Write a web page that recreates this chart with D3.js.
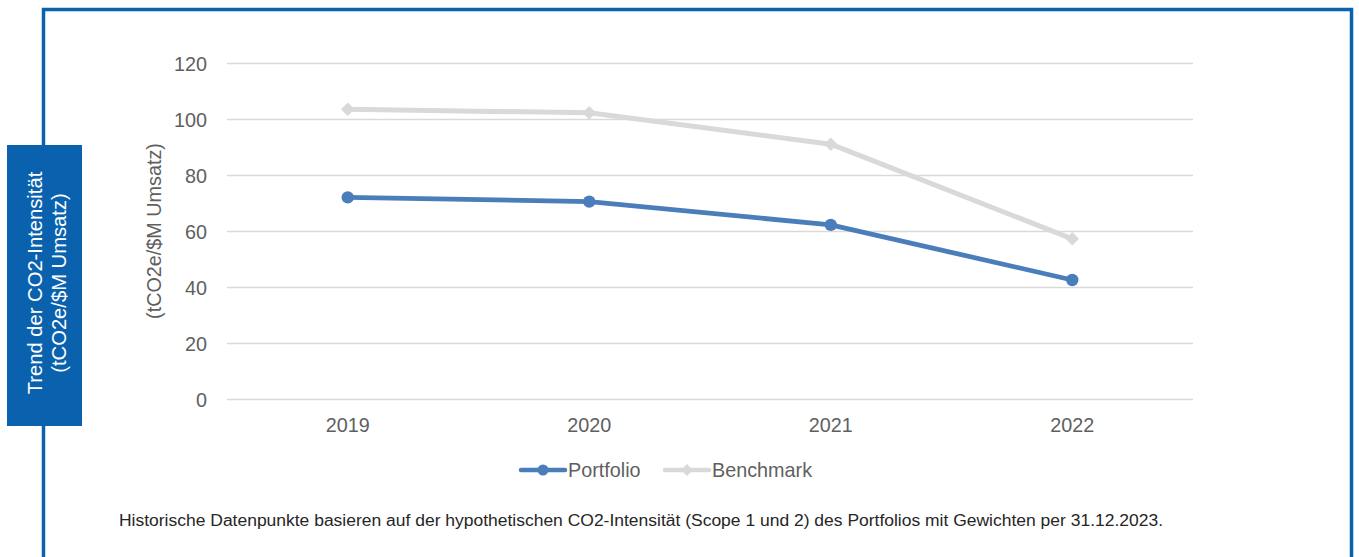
<!DOCTYPE html>
<html>
<head>
<meta charset="utf-8">
<script src="https://cdn.jsdelivr.net/npm/d3@7"></script>
<style>
  html, body { margin: 0; padding: 0; background: #fff; }
  svg { display: block; font-family: "Liberation Sans", Arial, sans-serif; }
</style>
</head>
<body>
<svg id="chart" width="1359" height="557"></svg>
<script>
// Jahre und CO2-Intensität (tCO2e/$M Umsatz)
const years = ["2019", "2020", "2021", "2022"];
const portfolio = [72, 70.5, 62.2, 42.5];
const benchmark = [103.5, 102.2, 91, 57.2];
const yTicks = [0, 20, 40, 60, 80, 100, 120];
const seriesNames = ["Portfolio", "Benchmark"];

const svg = d3.select("#chart");
const frameBlue = "#0a62ae";
const portfolioColor = "#4a7ebb";
const benchmarkColor = "#d9d9d9";
const textGray = "#5f5f5f";
const fontSize = 19.8;

// Rahmen
svg.append("path")
  .attr("d", "M43.5,557 L43.5,9.5 L1351.5,9.5 L1351.5,557")
  .attr("fill", "none").attr("stroke", frameBlue).attr("stroke-width", 3.5);

// Seitliche Beschriftungsbox
svg.append("rect").attr("x", 7).attr("y", 145).attr("width", 75).attr("height", 281)
  .attr("fill", frameBlue);
const boxText = svg.append("text")
  .attr("transform", "translate(48,283) rotate(-90)")
  .attr("text-anchor", "middle").attr("fill", "#fff").attr("font-size", 20.2);
boxText.append("tspan").attr("x", 0).attr("y", -6).text("Trend der CO2-Intensität");
boxText.append("tspan").attr("x", 0).attr("y", 18).text("(tCO2e/$M Umsatz)");

// Skalen
const x = d3.scaleBand().domain(years).range([227, 1193]);
const y = d3.scaleLinear().domain([0, 120]).range([399, 63]);
const cx = d => x(d) + x.bandwidth() / 2;

// Gitterlinien
svg.append("g").selectAll("line").data(yTicks).join("line")
  .attr("x1", 227).attr("x2", 1193)
  .attr("y1", d => Math.round(y(d)) + 0.5).attr("y2", d => Math.round(y(d)) + 0.5)
  .attr("stroke", "#d9d9d9").attr("stroke-width", 1.3);

// Y-Achse
const yAxis = svg.append("g").attr("transform", "translate(227,0)")
  .call(d3.axisLeft(y).tickValues(yTicks).tickSize(0).tickPadding(20));
yAxis.select(".domain").remove();
yAxis.selectAll("text").attr("font-size", fontSize).attr("fill", textGray)
  .attr("dy", "0.37em")
  .attr("font-family", "Liberation Sans, Arial, sans-serif");

// X-Achse
const xAxis = svg.append("g").attr("transform", "translate(0,399)")
  .call(d3.axisBottom(x).tickSize(0).tickPadding(19));
xAxis.select(".domain").remove();
xAxis.selectAll("text").attr("font-size", fontSize).attr("fill", textGray)
  .attr("font-family", "Liberation Sans, Arial, sans-serif");

// Achsentitel
svg.append("text")
  .attr("transform", "translate(161,231) rotate(-90)")
  .attr("text-anchor", "middle").attr("font-size", fontSize).attr("fill", textGray)
  .text("(tCO2e/$M Umsatz)");

// Linien
const line = d3.line().x((d, i) => cx(years[i])).y(d => y(d));
svg.append("path").datum(benchmark).attr("d", line)
  .attr("fill", "none").attr("stroke", benchmarkColor).attr("stroke-width", 5)
  .attr("stroke-linejoin", "round");
const diamond = d3.symbol().type(d3.symbolDiamond2).size(115);
svg.append("g").selectAll("path").data(benchmark).join("path")
  .attr("d", diamond)
  .attr("transform", (d, i) => `translate(${cx(years[i])},${y(d)})`)
  .attr("fill", benchmarkColor);

svg.append("path").datum(portfolio).attr("d", line)
  .attr("fill", "none").attr("stroke", portfolioColor).attr("stroke-width", 4.8)
  .attr("stroke-linejoin", "round");
svg.append("g").selectAll("circle").data(portfolio).join("circle")
  .attr("cx", (d, i) => cx(years[i])).attr("cy", d => y(d)).attr("r", 6.2)
  .attr("fill", portfolioColor);

// Legende
const legendItems = [
  { name: seriesNames[0], color: portfolioColor, x0: 521, type: "circle" },
  { name: seriesNames[1], color: benchmarkColor, x0: 665, type: "diamond" }
];
const lg = svg.append("g");
legendItems.forEach(it => {
  lg.append("line").attr("x1", it.x0).attr("x2", it.x0 + 44)
    .attr("y1", 470).attr("y2", 470)
    .attr("stroke", it.color).attr("stroke-width", 4.5).attr("stroke-linecap", "round");
  if (it.type === "circle") {
    lg.append("circle").attr("cx", it.x0 + 22).attr("cy", 470).attr("r", 5.5).attr("fill", it.color);
  } else {
    lg.append("path").attr("d", d3.symbol().type(d3.symbolDiamond2).size(90))
      .attr("transform", `translate(${it.x0 + 22},470)`).attr("fill", it.color);
  }
  lg.append("text").attr("x", it.x0 + 47).attr("y", 476.5)
    .attr("font-size", fontSize).attr("fill", textGray).text(it.name);
});

// Fußnote
svg.append("text").attr("x", 119).attr("y", 526)
  .attr("font-size", 15.8).attr("fill", "#262626")
  .attr("textLength", 1044).attr("lengthAdjust", "spacingAndGlyphs")
  .text("Historische Datenpunkte basieren auf der hypothetischen CO2-Intensität (Scope 1 und 2) des Portfolios mit Gewichten per 31.12.2023.");
</script>
</body>
</html>
